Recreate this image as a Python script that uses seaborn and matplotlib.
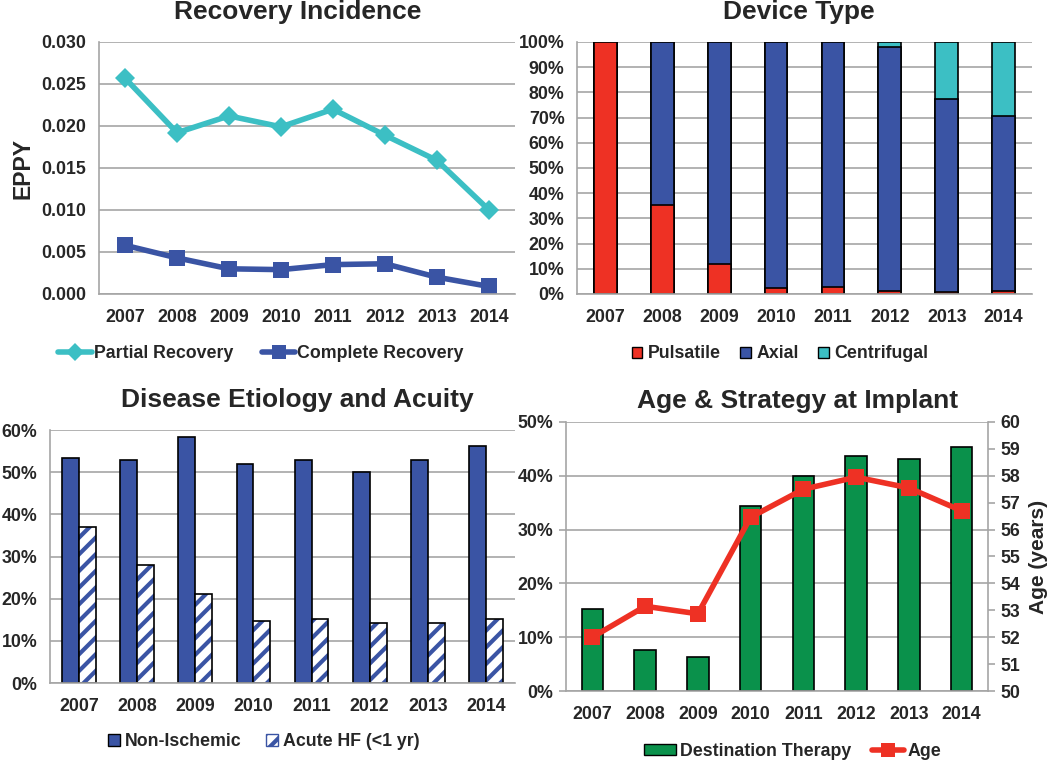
import numpy as np
import pandas as pd
import matplotlib
matplotlib.use('Agg')
import matplotlib.pyplot as plt
import seaborn as sns
from matplotlib.lines import Line2D
from matplotlib.patches import Patch, Rectangle
from matplotlib.ticker import FuncFormatter

# ---------------- data ----------------
years = ['2007', '2008', '2009', '2010', '2011', '2012', '2013', '2014']

partial_recovery = [0.0257, 0.0192, 0.0212, 0.0199, 0.0220, 0.0189, 0.0159, 0.0100]
complete_recovery = [0.0058, 0.0043, 0.0030, 0.0029, 0.0035, 0.0036, 0.0020, 0.0009]

pulsatile = [100.0, 35.5, 12.0, 2.5, 2.7, 1.2, 0.6, 1.0]
axial = [0.0, 64.5, 88.0, 97.5, 97.3, 97.0, 76.9, 69.5]
centrifugal = [0.0, 0.0, 0.0, 0.0, 0.0, 1.8, 22.5, 29.5]

non_ischemic = [53.3, 53.0, 58.3, 51.9, 52.9, 50.1, 52.9, 56.2]
acute_hf = [37.1, 27.9, 21.1, 14.8, 15.2, 14.2, 14.2, 15.2]

destination_therapy = [15.3, 7.6, 6.4, 34.4, 39.9, 43.7, 43.2, 45.4]
age = [52.0, 53.15, 52.87, 56.46, 57.5, 57.95, 57.55, 56.7]

# ---------------- style ----------------
CYAN = '#3CBFC4'
BLUE = '#3A54A4'
RED = '#EE3124'
GREEN = '#0A914B'
GRID = '#A5A5A5'
FS = 12.8

sns.set_style('white')
plt.rcParams['font.family'] = ['Liberation Sans', 'DejaVu Sans']
plt.rcParams['font.weight'] = 'bold'
plt.rcParams['hatch.linewidth'] = 3.0

W, H = 1050, 761
fig = plt.figure(figsize=(W / 100, H / 100), dpi=100)


def px_axes(l, t, r, b):
    return fig.add_axes([l / W, 1 - b / H, (r - l) / W, (b - t) / H])


def style(ax):
    ax.spines['top'].set_visible(False)
    ax.spines['right'].set_visible(False)
    for s in ['left', 'bottom']:
        ax.spines[s].set_color(GRID)
        ax.spines[s].set_linewidth(1.2)
    ax.set_xlim(-0.5, len(years) - 0.5)
    ax.set_xticks(range(len(years)))
    ax.set_xticklabels(years)
    ax.set_xticks(np.arange(-0.5, len(years), 1), minor=True)
    ax.tick_params(axis='x', which='major', length=0, pad=11, labelsize=FS)
    ax.tick_params(axis='x', which='minor', length=5, color=GRID, width=1.2, direction='out')
    ax.tick_params(axis='y', length=5, color=GRID, width=1.2, labelsize=FS, pad=4)
    ax.yaxis.grid(True, color=GRID, linewidth=1.2)
    ax.xaxis.grid(False)
    ax.set_axisbelow(True)
    ax.set_xlabel('')
    ax.set_ylabel('')


def title(x, y, text):
    fig.text(x / W, 1 - y / H, text, ha='center', va='baseline', fontsize=19, fontweight='bold')


def legend(handles, labels, x, y, ncol, **kw):
    fig.legend(handles, labels, loc='center', bbox_to_anchor=(x / W, 1 - y / H), ncol=ncol,
               frameon=False, prop={'size': FS, 'weight': 'bold'}, **kw)


pos = np.arange(len(years))
pct = FuncFormatter(lambda v, p: f'{v:.0f}%')

# ---------------- Panel 1: Recovery Incidence ----------------
ax1 = px_axes(99, 42, 515, 294)
sns.lineplot(x=pos, y=partial_recovery, color=CYAN, linewidth=4, marker='D', markersize=10,
             markeredgewidth=0, ax=ax1)
sns.lineplot(x=pos, y=complete_recovery, color=BLUE, linewidth=4, marker='s', markersize=12,
             markeredgewidth=0, ax=ax1)
style(ax1)
ax1.set_ylim(0, 0.030)
ax1.set_yticks(np.arange(0, 0.0301, 0.005))
ax1.yaxis.set_major_formatter(FuncFormatter(lambda v, p: f'{v:.3f}'))
ax1.set_ylabel('EPPY', fontsize=16.6, fontweight='bold', labelpad=5)
title(298, 19, 'Recovery Incidence')
legend([Line2D([], [], color=CYAN, lw=4, marker='D', ms=9, mew=0),
        Line2D([], [], color=BLUE, lw=4, marker='s', ms=10, mew=0)],
       ['Partial Recovery', 'Complete Recovery'], 261, 354, 2,
       handlelength=1.9, handletextpad=0.1, columnspacing=1.6)

# ---------------- Panel 2: Device Type ----------------
ax2 = px_axes(577, 42, 1032, 294)
tot_all = np.array(pulsatile) + np.array(axial) + np.array(centrifugal)
tot_pa = np.array(pulsatile) + np.array(axial)
for heights, col in [(tot_all, CYAN), (tot_pa, BLUE), (np.array(pulsatile), RED)]:
    sns.barplot(x=years, y=heights, color=col, saturation=1, width=0.4,
                edgecolor='black', linewidth=1.2, ax=ax2)
style(ax2)
ax2.set_ylim(0, 100)
ax2.set_yticks(np.arange(0, 101, 10))
ax2.yaxis.set_major_formatter(pct)
title(799, 19, 'Device Type')
legend([Patch(facecolor=RED, edgecolor='black'), Patch(facecolor=BLUE, edgecolor='black'),
        Patch(facecolor=CYAN, edgecolor='black')],
       ['Pulsatile', 'Axial', 'Centrifugal'], 780, 354, 3,
       handlelength=0.6, handleheight=0.6, handletextpad=0.3, columnspacing=1.1)

# ---------------- Panel 3: Disease Etiology and Acuity ----------------
ax3 = px_axes(50, 430, 515, 683)
df3 = pd.DataFrame({
    'year': years * 2,
    'value': non_ischemic + acute_hf,
    'series': ['Non-Ischemic'] * len(years) + ['Acute HF (<1 yr)'] * len(years),
})
sns.barplot(data=df3, x='year', y='value', hue='series', palette=[BLUE, 'white'],
            saturation=1, width=0.58, edgecolor='black', linewidth=1.2, legend=False, ax=ax3)
for p in list(ax3.patches):
    fc = p.get_facecolor()
    if fc[0] > 0.9 and fc[1] > 0.9 and fc[2] > 0.9 and p.get_height() > 0:
        p.set_hatch('//')
        p.set_edgecolor(BLUE)
        p.set_linewidth(0)
        ax3.add_patch(Rectangle((p.get_x(), p.get_y()), p.get_width(), p.get_height(),
                                fill=False, edgecolor='black', linewidth=1.2, zorder=p.get_zorder() + 0.1))
style(ax3)
ax3.set_ylim(0, 60)
ax3.set_yticks(np.arange(0, 61, 10))
ax3.yaxis.set_major_formatter(pct)
title(297, 407, 'Disease Etiology and Acuity')
legend([Patch(facecolor=BLUE, edgecolor='black'),
        Patch(facecolor='white', edgecolor=BLUE, hatch='//')],
       ['Non-Ischemic', 'Acute HF (<1 yr)'], 264, 742, 2,
       handlelength=0.65, handleheight=0.65, handletextpad=0.3, columnspacing=1.4)

# ---------------- Panel 4: Age & Strategy at Implant ----------------
ax4 = px_axes(566, 422, 988, 691)
sns.barplot(x=years, y=destination_therapy, color=GREEN, saturation=1, width=0.41,
            edgecolor='black', linewidth=1.2, ax=ax4)
style(ax4)
ax4.set_ylim(0, 50)
ax4.set_yticks(np.arange(0, 51, 10))
ax4.yaxis.set_major_formatter(pct)

ax4b = ax4.twinx()
sns.lineplot(x=pos, y=age, color=RED, linewidth=4, marker='s', markersize=12,
             markeredgewidth=0, ax=ax4b)
ax4b.set_ylim(50, 60)
ax4b.set_yticks(np.arange(50, 61, 1))
ax4b.set_xlim(-0.5, len(years) - 0.5)
for s in ['top', 'left', 'bottom']:
    ax4b.spines[s].set_visible(False)
ax4b.spines['right'].set_color(GRID)
ax4b.spines['right'].set_linewidth(1.2)
ax4b.tick_params(axis='y', length=5, color=GRID, width=1.2, labelsize=FS, pad=4)
ax4b.grid(False)
ax4b.set_ylabel('Age (years)', fontsize=15, fontweight='bold', labelpad=6)
title(798, 408, 'Age & Strategy at Implant')
legend([Patch(facecolor=GREEN, edgecolor='black'),
        Line2D([], [], color=RED, lw=4, marker='s', ms=10, mew=0)],
       ['Destination Therapy', 'Age'], 793, 751, 2,
       handlelength=1.8, handleheight=0.6, handletextpad=0.2, columnspacing=1.2)

fig.savefig('out.png', dpi=100)
